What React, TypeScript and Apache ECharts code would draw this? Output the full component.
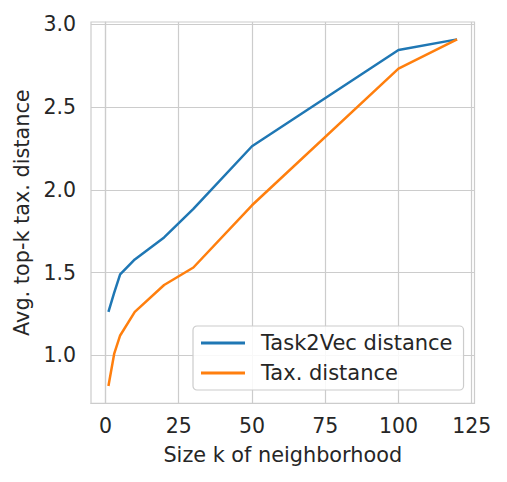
import React, { useEffect, useRef } from "react";
import * as echarts from "echarts";

const kValues = [1, 3, 5, 10, 20, 30, 50, 100, 120];
const task2vecDistance = [1.263, 1.38, 1.489, 1.58, 1.713, 1.885, 2.264, 2.846, 2.91];
const taxDistance = [0.815, 1.012, 1.12, 1.263, 1.425, 1.531, 1.907, 2.733, 2.91];
const xTicks = [0, 25, 50, 75, 100, 125];
const yTicks = [1.0, 1.5, 2.0, 2.5, 3.0];
const seriesNames = ["Task2Vec distance", "Tax. distance"];
const xName = "Size k of neighborhood";
const yName = "Avg. top-k tax. distance";

const FONT = "DejaVu Sans";
const TEXT = "#262626";
const GRID = "#cccccc";

export default function App() {
  const ref = useRef<HTMLDivElement>(null);
  useEffect(() => {
    if (!ref.current) return;
    const chart = echarts.init(ref.current, undefined, { renderer: "svg" });
    chart.setOption({
      animation: false,
      backgroundColor: "#ffffff",
      textStyle: { fontFamily: FONT, color: TEXT },
      grid: {
        left: 91,
        right: 32.5,
        top: 22,
        bottom: 78.7,
        show: true,
        borderColor: GRID,
        borderWidth: 1.2,
        backgroundColor: "transparent",
      },
      xAxis: {
        type: "value",
        min: -4.95,
        max: 125.95,
        name: xName,
        nameLocation: "middle",
        nameGap: 41,
        nameTextStyle: { fontFamily: FONT, fontSize: 20.8, color: TEXT },
        axisLine: { show: true, lineStyle: { color: GRID, width: 1.2 } },
        axisTick: { show: false, customValues: xTicks },
        axisLabel: {
          customValues: xTicks,
          fontFamily: FONT,
          fontSize: 20.5,
          color: TEXT,
          margin: 12,
          formatter: (v: number) => String(v),
        },
        splitLine: { show: true, lineStyle: { color: GRID, width: 1.2 } },
      },
      yAxis: {
        type: "value",
        min: 0.71,
        max: 3.015,
        name: yName,
        nameLocation: "middle",
        nameGap: 54,
        nameTextStyle: { fontFamily: FONT, fontSize: 20.8, color: TEXT },
        axisLine: { show: true, lineStyle: { color: GRID, width: 1.2 } },
        axisTick: { show: false, customValues: yTicks },
        axisLabel: {
          customValues: yTicks,
          fontFamily: FONT,
          fontSize: 20.5,
          color: TEXT,
          margin: 15,
          formatter: (v: number) => v.toFixed(1),
        },
        splitLine: { show: true, lineStyle: { color: GRID, width: 1.2 } },
      },
      legend: {
        orient: "vertical",
        left: 193,
        top: 326,
        padding: [6, 11, 6, 8],
        itemGap: 8,
        itemWidth: 44,
        itemHeight: 3,
        icon: "rect",
        backgroundColor: "rgba(255,255,255,0.85)",
        borderColor: GRID,
        borderWidth: 1.2,
        borderRadius: 4,
        textStyle: {
          fontFamily: FONT,
          fontSize: 21,
          color: TEXT,
          lineHeight: 22,
          padding: [0, 0, 0, 11],
        },
        data: seriesNames,
      },
      series: [
        {
          name: seriesNames[0],
          type: "line",
          data: kValues.map((k, i) => [k, task2vecDistance[i]]),
          symbol: "none",
          showSymbol: false,
          lineStyle: { color: "#1f77b4", width: 2.5 },
          itemStyle: { color: "#1f77b4" },
        },
        {
          name: seriesNames[1],
          type: "line",
          data: kValues.map((k, i) => [k, taxDistance[i]]),
          symbol: "none",
          showSymbol: false,
          lineStyle: { color: "#ff7f0e", width: 2.5 },
          itemStyle: { color: "#ff7f0e" },
        },
      ],
    });
    return () => chart.dispose();
  }, []);
  return <div ref={ref} style={{ width: 507, height: 482, position: "absolute", left: 0, top: 0 }} />;
}
